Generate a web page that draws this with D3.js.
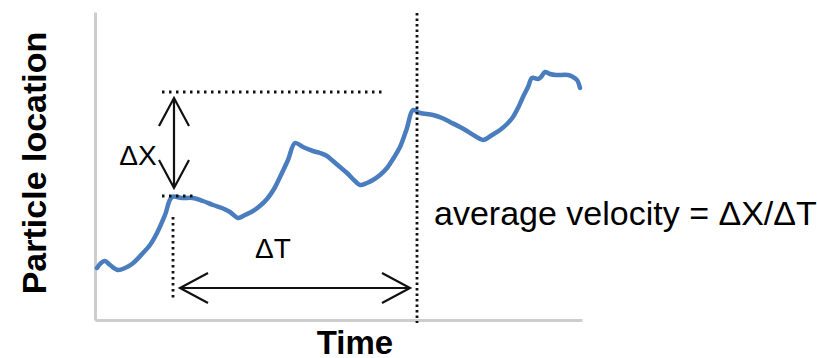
<!DOCTYPE html>
<html>
<head>
<meta charset="utf-8">
<script src="https://cdn.jsdelivr.net/npm/d3@7"></script>
<style>
  body { margin: 0; background: #fff; }
  text { font-family: "Liberation Sans", Arial, sans-serif; fill: #000; }
</style>
</head>
<body>
<div id="chart"></div>
<script>
// Time and particle location (arbitrary units)
const timeValues = [
  0.4, 1.2, 2.0, 3.0, 4.6, 6.0, 7.4, 9.6, 11.0, 12.4, 14.0, 15.4, 17.4, 19.6, 21.6, 23.6,
  25.4, 27.0, 28.6, 30.0, 31.6, 33.2, 34.4, 35.8, 37.0, 38.6, 40.0, 41.6, 43.6, 45.0,
  46.4, 47.6, 49.0, 50.4, 52.0, 53.0, 54.4, 55.6, 57.0, 58.4, 59.6, 61.0, 62.4, 63.6,
  65.0, 67.6, 69.4, 71.0, 73.0, 74.4, 76.0, 77.6, 79.4, 81.0, 82.4, 83.6, 84.6, 85.6,
  86.6, 87.4, 88.6, 89.2, 90.0, 91.0, 92.2, 94.6, 95.6, 96.4, 97.0
];
const locationValues = [
  10.4, 11.4, 11.8, 11.0, 10.0, 10.4, 11.2, 13.4, 15.0, 17.4, 21.0, 24.6, 24.4, 24.4, 23.8, 23.0,
  22.4, 21.6, 20.4, 21.0, 21.8, 23.0, 24.2, 26.2, 28.6, 32.0, 35.4, 34.6, 33.8, 33.4,
  32.8, 31.8, 30.6, 29.4, 27.8, 27.0, 27.4, 28.0, 29.0, 30.4, 32.2, 34.6, 38.4, 42.0,
  41.4, 41.0, 40.4, 39.6, 38.6, 37.8, 36.8, 36.0, 37.0, 38.0, 39.2, 40.6, 42.4, 44.6,
  46.6, 48.4, 48.2, 48.6, 49.6, 49.2, 49.0, 49.0, 48.6, 48.0, 46.4
];

// Annotation anchors (same units)
const deltaT = [15.6, 64.4];          // start / end time
const deltaX = [24.8, 45.4];          // start / end location
const labels = {
  y: "Particle location",
  x: "Time",
  dx: "ΔX",
  dt: "ΔT",
  formula: "average velocity = ΔX/ΔT"
};

class VelocityChart {
  constructor(_config) {
    this.config = {
      parentElement: _config.parentElement,
      containerWidth: 817,
      containerHeight: 358,
      margin: { top: 12, right: 235, bottom: 38, left: 95 }
    };
    this.initVis();
  }

  initVis() {
    let vis = this;
    vis.width = vis.config.containerWidth - vis.config.margin.left - vis.config.margin.right;
    vis.height = vis.config.containerHeight - vis.config.margin.top - vis.config.margin.bottom;

    vis.xScale = d3.scaleLinear().domain([0, 97.4]).range([0, vis.width]);
    vis.yScale = d3.scaleLinear().domain([0, 61.6]).range([vis.height, 0]);

    vis.svg = d3.select(vis.config.parentElement).append("svg")
      .attr("width", vis.config.containerWidth)
      .attr("height", vis.config.containerHeight);

    vis.chart = vis.svg.append("g")
      .attr("transform", `translate(${vis.config.margin.left},${vis.config.margin.top})`);

    vis.renderVis();
  }

  renderVis() {
    let vis = this;
    const x = vis.xScale, y = vis.yScale;

    // Axes: plain grey lines, no ticks
    const xAxis = d3.axisBottom(x).tickValues([]).tickSizeOuter(0);
    const yAxis = d3.axisLeft(y).tickValues([]).tickSizeOuter(0);
    vis.chart.append("g").attr("transform", `translate(0,${vis.height})`).call(xAxis);
    vis.chart.append("g").call(yAxis);
    vis.chart.selectAll(".domain")
      .attr("stroke", "#cdcdcd")
      .attr("stroke-width", 3);

    // Particle track
    const data = timeValues.map((t, i) => ({ t: t, v: locationValues[i] }));
    const line = d3.line().x(d => x(d.t)).y(d => y(d.v)).curve(d3.curveCatmullRom);
    vis.chart.append("path")
      .datum(data)
      .attr("fill", "none")
      .attr("stroke", "#4a7dbd")
      .attr("stroke-width", 4.5)
      .attr("stroke-linejoin", "round")
      .attr("stroke-linecap", "round")
      .attr("d", line);

    // Dotted guides
    const guides = [
      { x1: 13.4, x2: 57.6, y1: deltaX[1] + 0.2, y2: deltaX[1] + 0.2, dash: "2.5,4.5" },
      { x1: 13.4, x2: 19.8, y1: deltaX[0], y2: deltaX[0], dash: "2.5,4.5" },
      { x1: deltaT[0], x2: deltaT[0], y1: 20.6, y2: 4.4, dash: "2.5,3.5" },
      { x1: deltaT[1], x2: deltaT[1], y1: 61.4, y2: -0.6, dash: "2.5,3" }
    ];
    vis.chart.selectAll(".guide").data(guides).join("line")
      .attr("class", "guide")
      .attr("x1", d => x(d.x1)).attr("x2", d => x(d.x2))
      .attr("y1", d => y(d.y1)).attr("y2", d => y(d.y2))
      .attr("stroke", "#111")
      .attr("stroke-width", 2.8)
      .attr("stroke-dasharray", d => d.dash);

    // Double-headed arrows with open heads
    const arrows = [
      { x1: deltaT[0] + 0.2, y1: 44.4, x2: deltaT[0] + 0.2, y2: 26.4 },
      { x1: 17.0, y1: 6.4, x2: 63.0, y2: 6.4 }
    ];
    const head = (px, py, ang) => {
      const len = 28, half = 15;
      const c = Math.cos(ang), s = Math.sin(ang);
      const bx = px - len * c, by = py - len * s;
      return `M${bx - half * s},${by + half * c}L${px},${py}L${bx + half * s},${by - half * c}`;
    };
    arrows.forEach(a => {
      const p1 = [x(a.x1), y(a.y1)], p2 = [x(a.x2), y(a.y2)];
      const ang = Math.atan2(p2[1] - p1[1], p2[0] - p1[0]);
      vis.chart.append("path")
        .attr("fill", "none")
        .attr("stroke", "#111")
        .attr("stroke-width", 2.2)
        .attr("d", `M${p1[0]},${p1[1]}L${p2[0]},${p2[1]}` +
          head(p2[0], p2[1], ang) + head(p1[0], p1[1], ang + Math.PI));
    });

    // Labels
    vis.svg.append("text")
      .attr("transform", "translate(46,163) rotate(-90)")
      .attr("text-anchor", "middle")
      .attr("font-size", 34).attr("font-weight", "bold")
      .text(labels.y);

    vis.svg.append("text")
      .attr("x", 355).attr("y", 354)
      .attr("text-anchor", "middle")
      .attr("font-size", 33).attr("font-weight", "bold")
      .text(labels.x);

    vis.chart.append("text")
      .attr("x", x(8.6)).attr("y", y(31.0))
      .attr("text-anchor", "middle")
      .attr("font-size", 28)
      .text(labels.dx);

    vis.chart.append("text")
      .attr("x", x(35.6)).attr("y", y(12.4))
      .attr("text-anchor", "middle")
      .attr("font-size", 28)
      .text(labels.dt);

    vis.chart.append("text")
      .attr("x", x(67.8)).attr("y", y(19.0))
      .attr("font-size", 34)
      .text(labels.formula);
  }
}

new VelocityChart({ parentElement: "#chart" });
</script>
</body>
</html>
